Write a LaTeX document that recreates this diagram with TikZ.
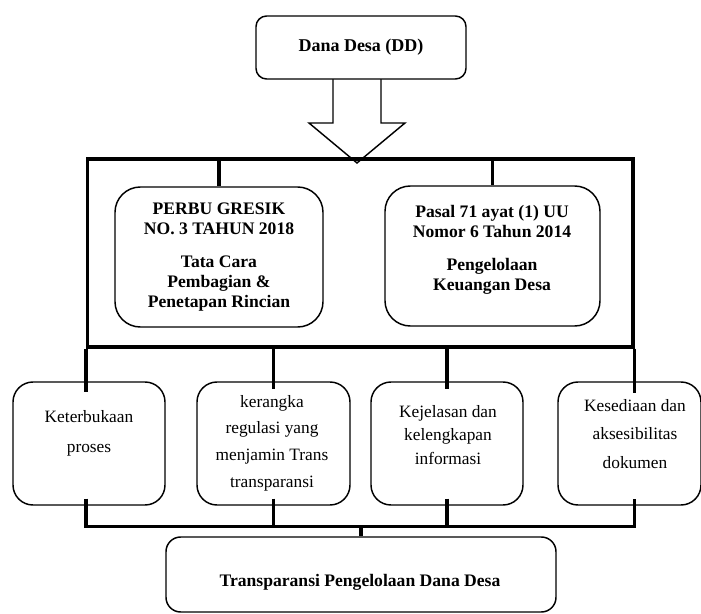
\documentclass[tikz,border=0pt]{standalone}
\usepackage{fontspec}
\setmainfont{Liberation Serif}
\usetikzlibrary{calc}
\tikzset{every picture/.style={line width=0.75pt}}
\tikzset{
	kotak/.style={draw, line width=1.1pt, fill=white, inner sep=0pt},
	tebal/.style={line width=2.3pt},
	tipis/.style={line width=1.1pt},
	judul/.style={align=center, font=\fontsize{13.2}{15}\selectfont\bfseries},
	isi/.style={align=center, font=\fontsize{13}{#1}\selectfont},
}

\begin{document}
\begin{tikzpicture}[x=0.75pt,y=0.75pt,yscale=-1,xscale=1]
		\useasboundingbox (0,0) rectangle (701,614);
		
		%Block Arrow
		\draw [tipis, fill=white] (333,79) -- (333,123) -- (309,123) -- (357,163) -- (405,123) -- (381,123) -- (381,79) ;
		
		%Rounded Rect: Dana Desa
		\node [kotak, rounded corners=8pt, minimum width=157.5pt, minimum height=47.25pt, judul, font=\fontsize{13.5}{15}\selectfont\bfseries] (dd) at (361,47.5) {Dana Desa (DD)};
		
		%Frame
		\node [draw, tebal, inner sep=0pt, minimum width=409.1pt, minimum height=141pt] (bingkai) at (360.25,253) {};
		
		%Rounded Rect: dasar hukum
		\node [kotak, rounded corners=19pt, minimum width=156pt, minimum height=105pt, judul] (perbup) at (219,257) {PERBU GRESIK\\NO. 3 TAHUN 2018\\[10pt]Tata Cara\\Pembagian \&\\Penetapan Rincian};
		\node [kotak, rounded corners=19pt, minimum width=161.25pt, minimum height=105pt] (pasal) at (492.5,256) {};
		\node [judul] (pasalteks) at (492,250) {Pasal 71 ayat (1) UU\\Nomor 6 Tahun 2014\\[10pt]Pengelolaan\\Keuangan Desa};
		
		%Rounded Rect: indikator
		\node [kotak, rounded corners=15pt, minimum width=114pt, minimum height=92.25pt] (k1) at (89,443.5) {};
		\node [kotak, rounded corners=15pt, minimum width=114.75pt, minimum height=92.25pt] (k2) at (273.5,443.5) {};
		\node [kotak, rounded corners=15pt, minimum width=114pt, minimum height=92.25pt] (k3) at (447,443.5) {};
		\node [kotak, rounded corners=15pt, minimum width=107.25pt, minimum height=92.25pt] (k4) at (629.5,443.5) {};
		\node [isi=22.5] (k1teks) at (89,433) {Keterbukaan\\proses};
		\node [isi=20] (k2teks) at (272,443) {kerangka\\regulasi yang\\menjamin Trans\\transparansi};
		\node [isi=17.5] (k3teks) at (448,435) {Kejelasan dan\\kelengkapan\\informasi};
		\node [isi=21.5] (k4teks) at (635,434) {Kesediaan dan\\aksesibilitas\\dokumen};
		
		%Rounded Rect: Transparansi
		\node [kotak, rounded corners=11pt, minimum width=292.5pt, minimum height=56.25pt] (tpdd) at (361,574.5) {};
		\node [judul] (tpddteks) at (360,582) {Transparansi Pengelolaan Dana Desa};
		
		%Straight Lines
		\coordinate (k1a) at ($(k1.north)+(0,11)$);
		\coordinate (k2a) at ($(k2.north)+(0,8)$);
		\coordinate (k3a) at ($(k3.north)+(0,8)$);
		\coordinate (k4a) at ($(k4.north)+(0,12)$);
		\coordinate (k1b) at ($(k1.south)+(0,-7)$);
		\coordinate (k2b) at ($(k2.south)+(0,-7)$);
		\coordinate (k3b) at ($(k3.south)+(0,-7)$);
		\coordinate (k4b) at ($(k4.south)+(0,-7)$);
		\coordinate (bus) at ($(tpdd.north)+(0,-10)$);
		
		\draw [tebal] (perbup.north |- bingkai.north) -- (perbup.north) ;
		\draw [tebal] (pasal.north |- bingkai.north) -- (pasal.north) ;
		
		\draw [tebal] (bingkai.south west) -- (bingkai.west |- k1a) ;
		\draw [tebal] (k2a |- bingkai.south) -- (k2a) ;
		\draw [tebal] (k3a |- bingkai.south) -- (k3a) ;
		\draw [tebal] (bingkai.south east) -- (bingkai.east |- k4a) ;
		
		\draw [tebal] (bingkai.west |- k1b) -- (bingkai.west |- bus) -- (bingkai.east |- bus) -- (bingkai.east |- k4b) ;
		\draw [tebal] (k2b) -- (k2b |- bus) ;
		\draw [tebal] (k3b) -- (k3b |- bus) ;
		\draw [tebal] (bus) -- (tpdd.north) ;
		
\end{tikzpicture}
\end{document}
